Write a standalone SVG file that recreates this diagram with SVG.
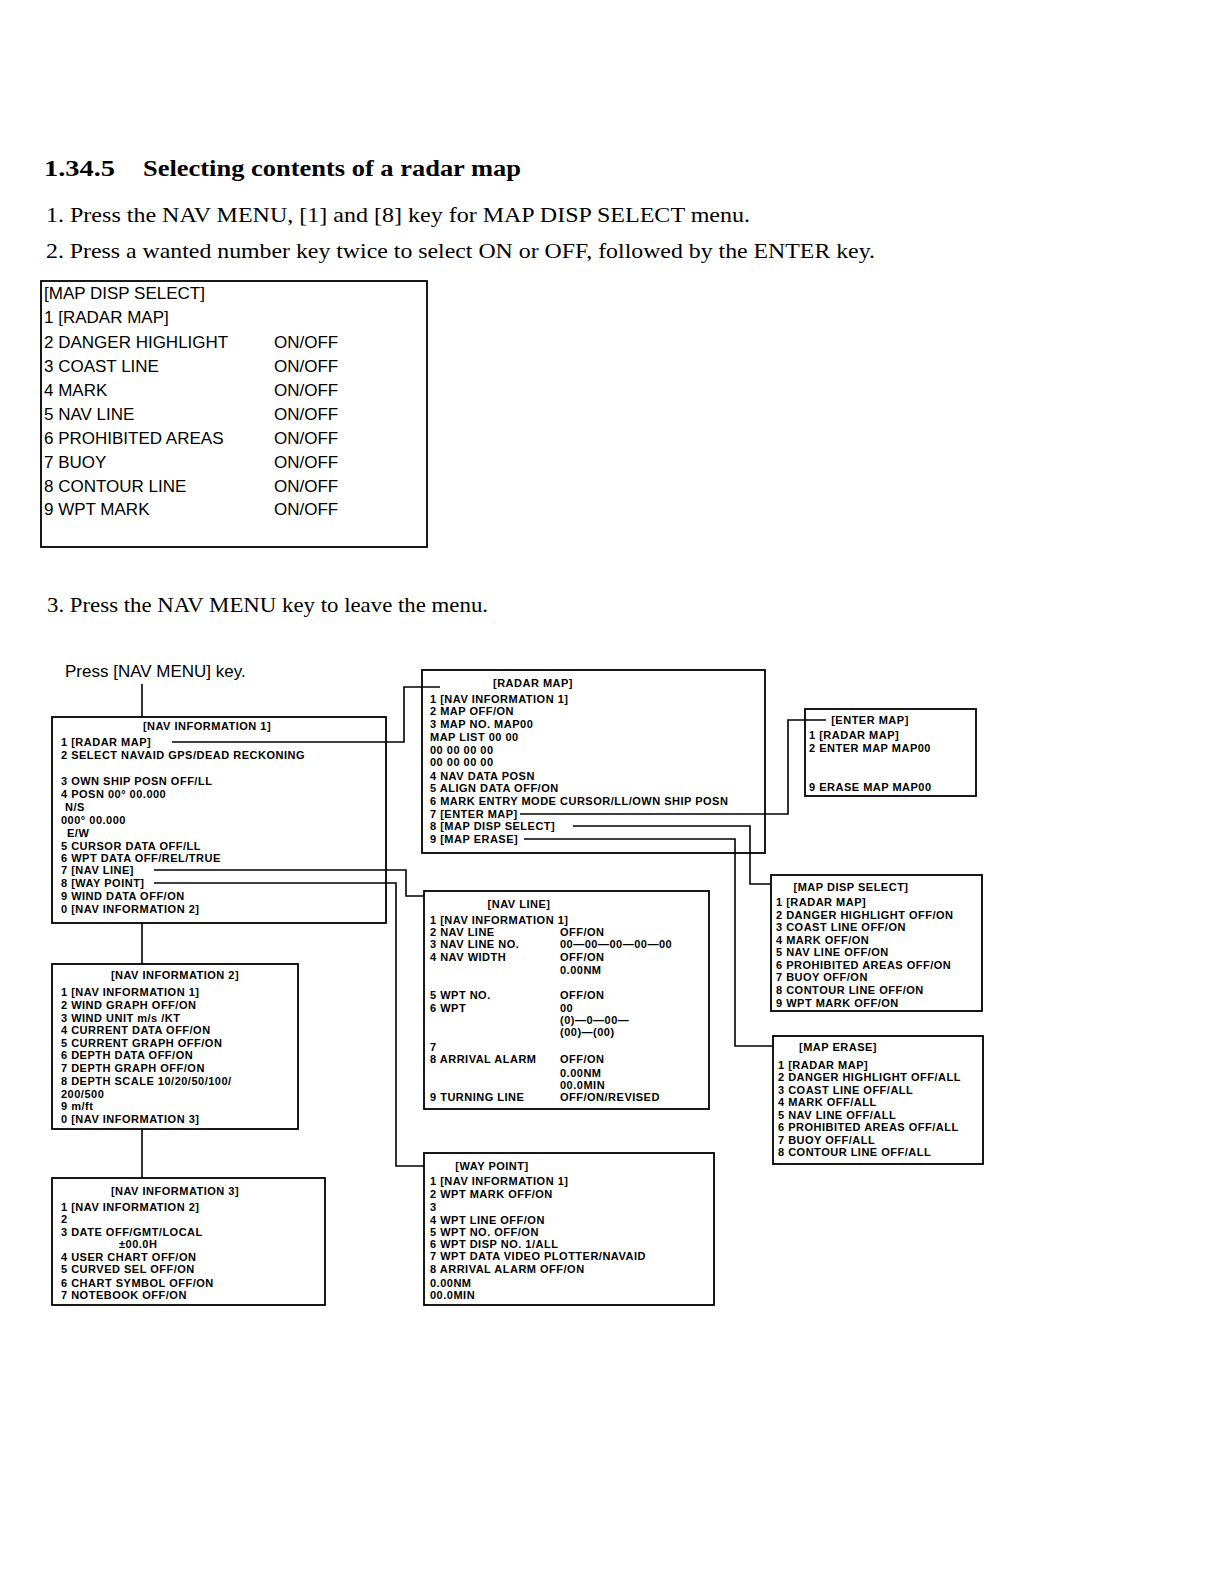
<svg xmlns="http://www.w3.org/2000/svg" width="1224" height="1584" viewBox="0 0 1224 1584">
<style>
.bg{fill:#fff}
.serif{font-family:"Liberation Serif","Times New Roman",serif;fill:#000}
.h{font-weight:bold;font-size:23px}
.p{font-size:21px}
.menu{font-family:"Liberation Sans",Arial,sans-serif;font-size:17px;fill:#000}
.t{font-family:"Liberation Sans",Arial,sans-serif;font-weight:bold;font-size:11px;letter-spacing:0.5px;fill:#000}
.mid{text-anchor:middle}
.box{fill:none;stroke:#000;stroke-width:1.8}
.c{fill:none;stroke:#000;stroke-width:1.6}
</style>
<rect class="bg" x="0" y="0" width="1224" height="1584"/>

<g id="heading">
<text class="serif h" x="44" y="176" textLength="71" lengthAdjust="spacingAndGlyphs">1.34.5</text>
<text class="serif h" x="143" y="176" textLength="378" lengthAdjust="spacingAndGlyphs">Selecting contents of a radar map</text>
<text class="serif p" x="46" y="222" textLength="704" lengthAdjust="spacingAndGlyphs">1. Press the NAV MENU, [1] and [8] key for MAP DISP SELECT menu.</text>
<text class="serif p" x="46" y="258" textLength="829" lengthAdjust="spacingAndGlyphs">2. Press a wanted number key twice to select ON or OFF, followed by the ENTER key.</text>
<text class="serif p" x="47" y="612" textLength="441" lengthAdjust="spacingAndGlyphs">3. Press the NAV MENU key to leave the menu.</text>
</g>

<g id="map-disp-select-menu">
<rect class="box" x="41" y="281" width="386" height="266"/>
<text class="menu" x="44" y="299">[MAP DISP SELECT]</text>
<text class="menu" x="44" y="323">1 [RADAR MAP]</text>
<text class="menu" x="44" y="348">2 DANGER HIGHLIGHT</text>
<text class="menu" x="44" y="372">3 COAST LINE</text>
<text class="menu" x="44" y="396">4 MARK</text>
<text class="menu" x="44" y="420">5 NAV LINE</text>
<text class="menu" x="44" y="444">6 PROHIBITED AREAS</text>
<text class="menu" x="44" y="468">7 BUOY</text>
<text class="menu" x="44" y="492">8 CONTOUR LINE</text>
<text class="menu" x="44" y="515">9 WPT MARK</text>
<text class="menu" x="274" y="348">ON/OFF</text>
<text class="menu" x="274" y="372">ON/OFF</text>
<text class="menu" x="274" y="396">ON/OFF</text>
<text class="menu" x="274" y="420">ON/OFF</text>
<text class="menu" x="274" y="444">ON/OFF</text>
<text class="menu" x="274" y="468">ON/OFF</text>
<text class="menu" x="274" y="492">ON/OFF</text>
<text class="menu" x="274" y="515">ON/OFF</text>
</g>

<g id="press-key">
<text class="menu" x="65" y="677">Press [NAV MENU] key.</text>
</g>

<g id="connectors">
<path class="c" d="M142 684 V717"/>
<path class="c" d="M172 742 H404 V687 H440"/>
<path class="c" d="M154 870 H406 V896 H424"/>
<path class="c" d="M154 883 H396 V1166 H424"/>
<path class="c" d="M142 923 V964"/>
<path class="c" d="M142 1129 V1178"/>
<path class="c" d="M520 814 H788 V720 H826"/>
<path class="c" d="M573 826 H750 V884 H771"/>
<path class="c" d="M524 839 H735 V1046 H773"/>
</g>

<g id="nav-information-1">
<rect class="box" x="52" y="717" width="334" height="206"/>
<text class="t mid" x="207" y="730">[NAV INFORMATION 1]</text>
<text class="t" x="61" y="746">1 [RADAR MAP]</text>
<text class="t" x="61" y="759">2 SELECT NAVAID GPS/DEAD RECKONING</text>
<text class="t" x="61" y="785">3 OWN SHIP POSN OFF/LL</text>
<text class="t" x="61" y="798">4 POSN 00° 00.000</text>
<text class="t" x="65" y="811">N/S</text>
<text class="t" x="61" y="824">000° 00.000</text>
<text class="t" x="67" y="837">E/W</text>
<text class="t" x="61" y="850">5 CURSOR DATA OFF/LL</text>
<text class="t" x="61" y="862">6 WPT DATA OFF/REL/TRUE</text>
<text class="t" x="61" y="874">7 [NAV LINE]</text>
<text class="t" x="61" y="887">8 [WAY POINT]</text>
<text class="t" x="61" y="900">9 WIND DATA OFF/ON</text>
<text class="t" x="61" y="913">0 [NAV INFORMATION 2]</text>
</g>

<g id="nav-information-2">
<rect class="box" x="52" y="964" width="246" height="165"/>
<text class="t mid" x="175" y="979">[NAV INFORMATION 2]</text>
<text class="t" x="61" y="996">1 [NAV INFORMATION 1]</text>
<text class="t" x="61" y="1009">2 WIND GRAPH OFF/ON</text>
<text class="t" x="61" y="1022">3 WIND UNIT m/s /KT</text>
<text class="t" x="61" y="1034">4 CURRENT DATA OFF/ON</text>
<text class="t" x="61" y="1047">5 CURRENT GRAPH OFF/ON</text>
<text class="t" x="61" y="1059">6 DEPTH DATA OFF/ON</text>
<text class="t" x="61" y="1072">7 DEPTH GRAPH OFF/ON</text>
<text class="t" x="61" y="1085">8 DEPTH SCALE 10/20/50/100/</text>
<text class="t" x="61" y="1098">200/500</text>
<text class="t" x="61" y="1110">9 m/ft</text>
<text class="t" x="61" y="1123">0 [NAV INFORMATION 3]</text>
</g>

<g id="nav-information-3">
<rect class="box" x="52" y="1178" width="273" height="127"/>
<text class="t mid" x="175" y="1195">[NAV INFORMATION 3]</text>
<text class="t" x="61" y="1211">1 [NAV INFORMATION 2]</text>
<text class="t" x="61" y="1223">2</text>
<text class="t" x="61" y="1236">3 DATE OFF/GMT/LOCAL</text>
<text class="t" x="119" y="1248">±00.0H</text>
<text class="t" x="61" y="1261">4 USER CHART OFF/ON</text>
<text class="t" x="61" y="1273">5 CURVED SEL OFF/ON</text>
<text class="t" x="61" y="1287">6 CHART SYMBOL OFF/ON</text>
<text class="t" x="61" y="1299">7 NOTEBOOK OFF/ON</text>
</g>

<g id="radar-map">
<rect class="box" x="422" y="670" width="343" height="183"/>
<text class="t mid" x="533" y="687">[RADAR MAP]</text>
<text class="t" x="430" y="703">1 [NAV INFORMATION 1]</text>
<text class="t" x="430" y="715">2 MAP OFF/ON</text>
<text class="t" x="430" y="728">3 MAP NO. MAP00</text>
<text class="t" x="430" y="741">MAP LIST 00 00</text>
<text class="t" x="430" y="754">00 00 00 00</text>
<text class="t" x="430" y="766">00 00 00 00</text>
<text class="t" x="430" y="780">4 NAV DATA POSN</text>
<text class="t" x="430" y="792">5 ALIGN DATA OFF/ON</text>
<text class="t" x="430" y="805">6 MARK ENTRY MODE CURSOR/LL/OWN SHIP POSN</text>
<text class="t" x="430" y="818">7 [ENTER MAP]</text>
<text class="t" x="430" y="830">8 [MAP DISP SELECT]</text>
<text class="t" x="430" y="843">9 [MAP ERASE]</text>
</g>

<g id="enter-map">
<rect class="box" x="805" y="709" width="171" height="87"/>
<text class="t mid" x="870" y="724">[ENTER MAP]</text>
<text class="t" x="809" y="739">1 [RADAR MAP]</text>
<text class="t" x="809" y="752">2 ENTER MAP MAP00</text>
<text class="t" x="809" y="791">9 ERASE MAP MAP00</text>
</g>

<g id="map-disp-select">
<rect class="box" x="771" y="875" width="211" height="136"/>
<text class="t mid" x="851" y="891">[MAP DISP SELECT]</text>
<text class="t" x="776" y="906">1 [RADAR MAP]</text>
<text class="t" x="776" y="919">2 DANGER HIGHLIGHT OFF/ON</text>
<text class="t" x="776" y="931">3 COAST LINE OFF/ON</text>
<text class="t" x="776" y="944">4 MARK OFF/ON</text>
<text class="t" x="776" y="956">5 NAV LINE OFF/ON</text>
<text class="t" x="776" y="969">6 PROHIBITED AREAS OFF/ON</text>
<text class="t" x="776" y="981">7 BUOY OFF/ON</text>
<text class="t" x="776" y="994">8 CONTOUR LINE OFF/ON</text>
<text class="t" x="776" y="1007">9 WPT MARK OFF/ON</text>
</g>

<g id="map-erase">
<rect class="box" x="773" y="1036" width="210" height="128"/>
<text class="t mid" x="838" y="1051">[MAP ERASE]</text>
<text class="t" x="778" y="1069">1 [RADAR MAP]</text>
<text class="t" x="778" y="1081">2 DANGER HIGHLIGHT OFF/ALL</text>
<text class="t" x="778" y="1094">3 COAST LINE OFF/ALL</text>
<text class="t" x="778" y="1106">4 MARK OFF/ALL</text>
<text class="t" x="778" y="1119">5 NAV LINE OFF/ALL</text>
<text class="t" x="778" y="1131">6 PROHIBITED AREAS OFF/ALL</text>
<text class="t" x="778" y="1144">7 BUOY OFF/ALL</text>
<text class="t" x="778" y="1156">8 CONTOUR LINE OFF/ALL</text>
</g>

<g id="nav-line">
<rect class="box" x="424" y="891" width="285" height="218"/>
<text class="t mid" x="519" y="908">[NAV LINE]</text>
<text class="t" x="430" y="924">1 [NAV INFORMATION 1]</text>
<text class="t" x="430" y="936">2 NAV LINE</text>
<text class="t" x="430" y="948">3 NAV LINE NO.</text>
<text class="t" x="430" y="961">4 NAV WIDTH</text>
<text class="t" x="430" y="999">5 WPT NO.</text>
<text class="t" x="430" y="1012">6 WPT</text>
<text class="t" x="430" y="1051">7</text>
<text class="t" x="430" y="1063">8 ARRIVAL ALARM</text>
<text class="t" x="430" y="1101">9 TURNING LINE</text>
<text class="t" x="560" y="936">OFF/ON</text>
<text class="t" x="560" y="948">00—00—00—00—00</text>
<text class="t" x="560" y="961">OFF/ON</text>
<text class="t" x="560" y="974">0.00NM</text>
<text class="t" x="560" y="999">OFF/ON</text>
<text class="t" x="560" y="1012">00</text>
<text class="t" x="560" y="1024">(0)—0—00—</text>
<text class="t" x="560" y="1036">(00)—(00)</text>
<text class="t" x="560" y="1063">OFF/ON</text>
<text class="t" x="560" y="1077">0.00NM</text>
<text class="t" x="560" y="1089">00.0MIN</text>
<text class="t" x="560" y="1101">OFF/ON/REVISED</text>
</g>

<g id="way-point">
<rect class="box" x="424" y="1153" width="290" height="152"/>
<text class="t mid" x="492" y="1170">[WAY POINT]</text>
<text class="t" x="430" y="1185">1 [NAV INFORMATION 1]</text>
<text class="t" x="430" y="1198">2 WPT MARK OFF/ON</text>
<text class="t" x="430" y="1211">3</text>
<text class="t" x="430" y="1224">4 WPT LINE OFF/ON</text>
<text class="t" x="430" y="1236">5 WPT NO. OFF/ON</text>
<text class="t" x="430" y="1248">6 WPT DISP NO. 1/ALL</text>
<text class="t" x="430" y="1260">7 WPT DATA VIDEO PLOTTER/NAVAID</text>
<text class="t" x="430" y="1273">8 ARRIVAL ALARM OFF/ON</text>
<text class="t" x="430" y="1287">0.00NM</text>
<text class="t" x="430" y="1299">00.0MIN</text>
</g>
</svg>
